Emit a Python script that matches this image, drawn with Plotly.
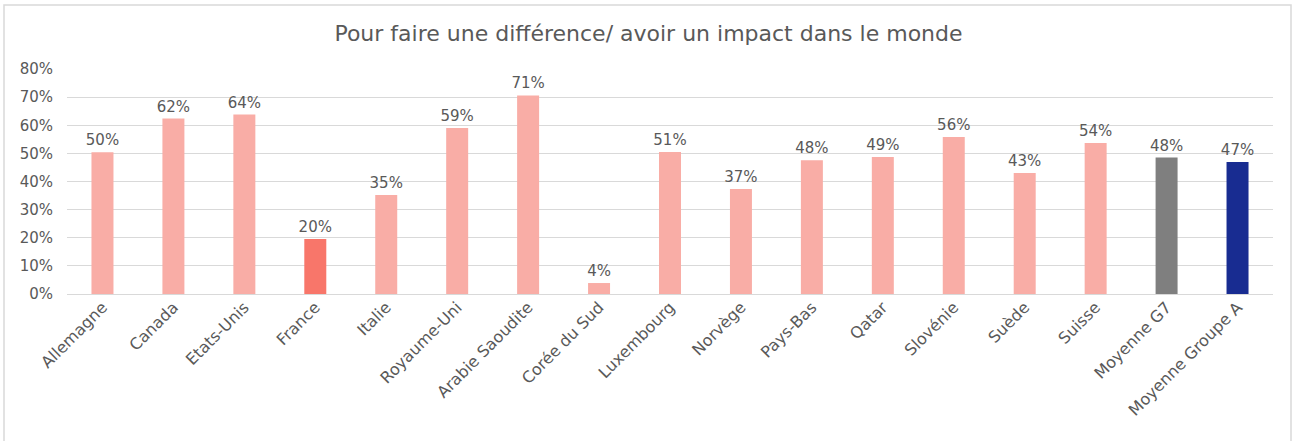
import plotly.graph_objects as go

categories = ["Allemagne", "Canada", "Etats-Unis", "France", "Italie", "Royaume-Uni",
              "Arabie Saoudite", "Corée du Sud", "Luxembourg", "Norvège", "Pays-Bas",
              "Qatar", "Slovénie", "Suède", "Suisse", "Moyenne G7", "Moyenne Groupe A"]
values = [0.504, 0.624, 0.638, 0.196, 0.352, 0.590, 0.706, 0.039, 0.505, 0.373, 0.476,
          0.487, 0.558, 0.430, 0.537, 0.485, 0.469]
labels = ["50%", "62%", "64%", "20%", "35%", "59%", "71%", "4%", "51%", "37%", "48%",
          "49%", "56%", "43%", "54%", "48%", "47%"]

PINK = "#F9ADA6"
colors = [PINK] * len(categories)
colors[3] = "#F8766A"
colors[15] = "#7F7F7F"
colors[16] = "#182C91"

font_family = "DejaVu Sans, sans-serif"
grey = "#595959"

fig = go.Figure(go.Bar(
    x=categories, y=values, marker=dict(color=colors, line=dict(width=0)),
    text=labels, textposition="outside", cliponaxis=False, constraintext="none",
    textfont=dict(size=15, color=grey, family=font_family),
    width=0.31,
))

W, H = 1297, 441
l, r, t, b = 67, 24, 69, 147
pw, ph = W - l - r, H - t - b

def px_to_paper_x(px):
    return (px - l) / pw

def px_to_paper_y(py):
    return (H - b - py) / ph

fig.update_layout(
    width=W, height=H,
    margin=dict(l=l, r=r, t=t, b=b, autoexpand=False),
    paper_bgcolor="white", plot_bgcolor="white",
    title=dict(text="Pour faire une différence/ avoir un impact dans le monde",
               x=0.5, xanchor="center", y=1 - 33 / H, yanchor="middle",
               font=dict(size=22, color=grey, family=font_family)),
    showlegend=False,
    xaxis=dict(tickangle=-45, tickfont=dict(size=16, color=grey, family=font_family),
               showgrid=False, showline=False, ticks=""),
    yaxis=dict(range=[0, 0.8], dtick=0.1, tickformat=".0%",
               tickfont=dict(size=15, color=grey, family=font_family),
               ticklabelstandoff=13,
               gridcolor="#D9D9D9", gridwidth=1, zeroline=True, zerolinecolor="#D9D9D9",
               zerolinewidth=1, showline=False, ticks="", ticklen=0),
    shapes=[dict(type="rect", xref="paper", yref="paper",
                 x0=px_to_paper_x(4), x1=px_to_paper_x(1291),
                 y0=px_to_paper_y(460), y1=px_to_paper_y(5),
                 line=dict(color="#D9D9D9", width=1.5), fillcolor="rgba(0,0,0,0)",
                 layer="below")],
)

fig.write_html("out.html", config={"displayModeBar": False},
               post_script="document.body.style.margin='0';")
